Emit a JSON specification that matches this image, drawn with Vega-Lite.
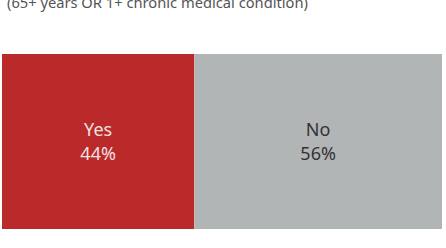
{
  "$schema": "https://vega.github.io/schema/vega-lite/v6.json",
  "width": 440,
  "height": 175,
  "autosize": {"type": "none"},
  "padding": {"top": 54, "left": 2, "bottom": 19, "right": 4},
  "background": "white",
  "config": {"view": {"stroke": null}, "font": "Noto Sans"},
  "title": {
    "text": "(65+ years OR 1+ chronic medical condition)",
    "anchor": "start",
    "orient": "top",
    "frame": "group",
    "baseline": "bottom",
    "offset": 28,
    "dx": 5,
    "fontSize": 14.7,
    "fontWeight": "normal",
    "color": "#555555",
    "font": "Noto Sans"
  },
  "data": {
    "values": [
      {"answer": "Yes", "pct": 0.437, "order": 1},
      {"answer": "No", "pct": 0.563, "order": 2}
    ]
  },
  "transform": [
    {"stack": "pct", "sortby": [{"field": "order"}], "groupby": [], "as": ["p0", "p1"]},
    {"calculate": "(datum.p0 + datum.p1) / 2", "as": "mid"},
    {"calculate": "[datum.answer, format(datum.pct, '.0%')]", "as": "label"}
  ],
  "encoding": {
    "y": {"datum": "all", "type": "nominal", "scale": {"paddingInner": 0, "paddingOuter": 0}, "axis": null}
  },
  "layer": [
    {
      "mark": {"type": "bar", "stroke": null},
      "encoding": {
        "x": {"field": "p0", "type": "quantitative", "scale": {"domain": [0, 1], "nice": false}, "axis": null},
        "x2": {"field": "p1"},
        "color": {
          "field": "answer",
          "type": "nominal",
          "scale": {"domain": ["Yes", "No"], "range": ["#BA2A2A", "#B2B5B6"]},
          "legend": null
        }
      }
    },
    {
      "mark": {"type": "text", "fontSize": 18, "lineHeight": 24, "baseline": "alphabetic", "align": "center", "dy": -5.5},
      "encoding": {
        "x": {"field": "mid", "type": "quantitative"},
        "text": {"field": "label"},
        "color": {
          "field": "answer",
          "type": "nominal",
          "scale": {"domain": ["Yes", "No"], "range": ["#F2E0E0", "#333333"]},
          "legend": null
        }
      }
    }
  ],
  "resolve": {"scale": {"color": "independent"}}
}
